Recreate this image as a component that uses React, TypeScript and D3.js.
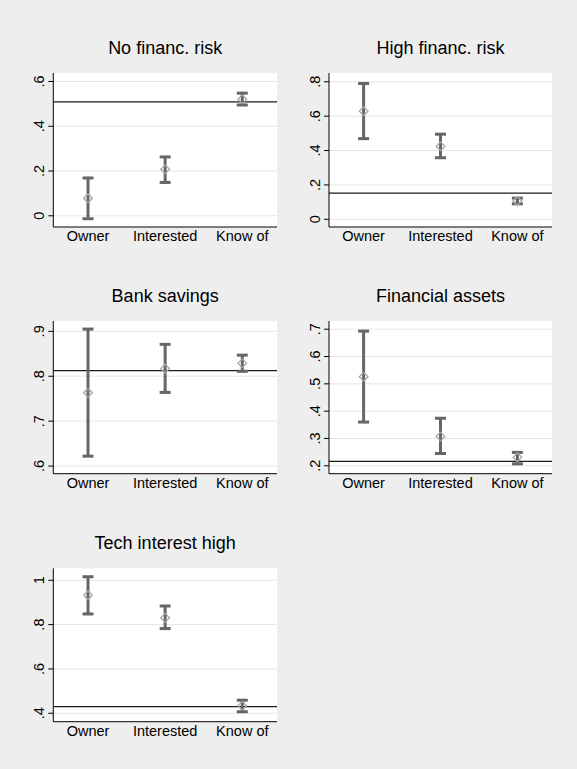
import React, { useEffect } from 'react'
import * as d3 from 'd3'

const categories = ['Owner', 'Interested', 'Know of']

// No financ. risk
const noRiskMean = [0.078, 0.208, 0.521]
const noRiskLow = [-0.013, 0.149, 0.495]
const noRiskHigh = [0.169, 0.263, 0.548]
const noRiskRef = 0.509
const noRiskTicks = [0, 0.2, 0.4, 0.6]

// High financ. risk
const highRiskMean = [0.629, 0.425, 0.107]
const highRiskLow = [0.469, 0.358, 0.09]
const highRiskHigh = [0.79, 0.495, 0.123]
const highRiskRef = 0.152
const highRiskTicks = [0, 0.2, 0.4, 0.6, 0.8]

// Bank savings
const bankMean = [0.763, 0.817, 0.829]
const bankLow = [0.622, 0.764, 0.811]
const bankHigh = [0.905, 0.871, 0.847]
const bankRef = 0.8125
const bankTicks = [0.6, 0.7, 0.8, 0.9]

// Financial assets
const assetsMean = [0.526, 0.307, 0.231]
const assetsLow = [0.36, 0.245, 0.207]
const assetsHigh = [0.693, 0.374, 0.249]
const assetsRef = 0.216
const assetsTicks = [0.2, 0.3, 0.4, 0.5, 0.6, 0.7]

// Tech interest high
const techMean = [0.932, 0.831, 0.434]
const techLow = [0.848, 0.782, 0.407]
const techHigh = [1.016, 0.884, 0.459]
const techRef = 0.43
const techTicks = [0.4, 0.6, 0.8, 1]

const W = 577
const H = 769
const BG = '#eeeeee'
const FONT = '"Liberation Sans", Arial, sans-serif'

// stata style labels: ".6", "0", "1"
const fmt = (d: number) => {
  const s = d3.format('~g')(d)
  return s.replace(/^0\./, '.')
}

function Panel(props: any) {
  const { title, mean, low, high, refValue, ticks, domain, box } = props
  const x = d3.scalePoint<string>().domain(categories).range([box.left, box.right]).padding(0.45)
  const y = d3.scaleLinear().domain(domain).range([box.bottom, box.top])
  const diamond = d3.symbol(d3.symbolSquare, 38)()
  const cap = 5.5

  return (
    <g>
      <text x={(box.left + box.right) / 2} y={box.top - 19.5} textAnchor="middle"
        fontSize={18} fontFamily={FONT} fill="#000">{title}</text>
      <rect x={box.left} y={box.top} width={box.right - box.left} height={box.bottom - box.top} fill="#fff" />
      {ticks.map((t: number) => (
        <g key={t}>
          <line x1={box.left} x2={box.right} y1={y(t)} y2={y(t)} stroke="#e6e6e6" strokeWidth={1} />
          <line x1={box.left - 5} x2={box.left} y1={y(t)} y2={y(t)} stroke="#000" strokeWidth={1} />
          <text transform={`translate(${box.left - 9.5},${y(t)}) rotate(-90)`} textAnchor="middle"
            fontSize={14.5} fontFamily={FONT} fill="#000">{fmt(t)}</text>
        </g>
      ))}
      <line x1={box.left} x2={box.right} y1={y(refValue)} y2={y(refValue)} stroke="#1a1a1a" strokeWidth={1.2} />
      {categories.map((c, i) => {
        const cx = x(c) as number
        return (
          <g key={c}>
            <line x1={cx} x2={cx} y1={y(low[i])} y2={y(high[i])} stroke="#666" strokeWidth={3} />
            <line x1={cx - cap} x2={cx + cap} y1={y(low[i])} y2={y(low[i])} stroke="#666" strokeWidth={3} />
            <line x1={cx - cap} x2={cx + cap} y1={y(high[i])} y2={y(high[i])} stroke="#666" strokeWidth={3} />
            <path d={diamond as string} transform={`translate(${cx},${y(mean[i])}) rotate(45)`}
              fill="none" stroke="#a6a6a6" strokeWidth={1.3} />
            <text x={cx} y={box.bottom + 14} textAnchor="middle" fontSize={14.5}
              fontFamily={FONT} fill="#000">{c}</text>
          </g>
        )
      })}
      <line x1={box.left} x2={box.left} y1={box.top} y2={box.bottom} stroke="#000" strokeWidth={1} />
      <line x1={box.left} x2={box.right} y1={box.bottom} y2={box.bottom} stroke="#000" strokeWidth={1} />
    </g>
  )
}

export default function App() {
  useEffect(() => {
    document.body.style.margin = '0'
    document.body.style.background = BG
    document.body.style.overflow = 'hidden'
  }, [])

  const left = { left: 53.3, right: 277 }
  const right = { left: 329, right: 552 }
  return (
    <svg width={W} height={H} style={{ display: 'block', position: 'absolute', left: 0, top: 0 }}>
      <rect width={W} height={H} fill={BG} />
      <Panel title="No financ. risk" mean={noRiskMean} low={noRiskLow} high={noRiskHigh}
        refValue={noRiskRef} ticks={noRiskTicks} domain={[-0.05, 0.638]}
        box={{ ...left, top: 73, bottom: 227 }} />
      <Panel title="High financ. risk" mean={highRiskMean} low={highRiskLow} high={highRiskHigh}
        refValue={highRiskRef} ticks={highRiskTicks} domain={[-0.045, 0.851]}
        box={{ ...right, top: 73, bottom: 227 }} />
      <Panel title="Bank savings" mean={bankMean} low={bankLow} high={bankHigh}
        refValue={bankRef} ticks={bankTicks} domain={[0.583, 0.923]}
        box={{ ...left, top: 321, bottom: 473.7 }} />
      <Panel title="Financial assets" mean={assetsMean} low={assetsLow} high={assetsHigh}
        refValue={assetsRef} ticks={assetsTicks} domain={[0.171, 0.73]}
        box={{ ...right, top: 321, bottom: 473.7 }} />
      <Panel title="Tech interest high" mean={techMean} low={techLow} high={techHigh}
        refValue={techRef} ticks={techTicks} domain={[0.362, 1.054]}
        box={{ ...left, top: 568.3, bottom: 721.7 }} />
    </svg>
  )
}
